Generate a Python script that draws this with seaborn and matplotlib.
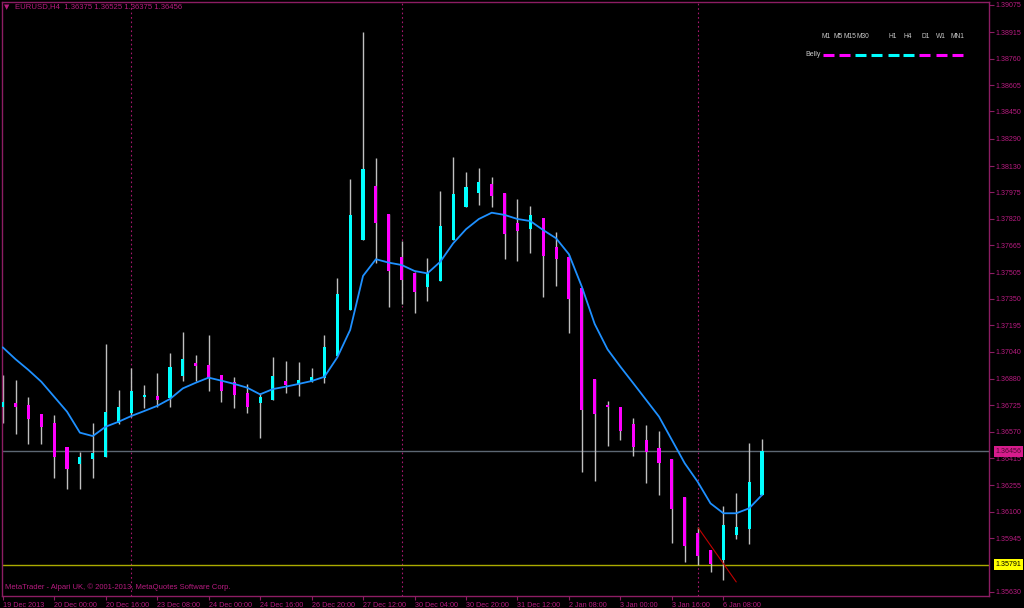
import numpy as np
import pandas as pd
import matplotlib
matplotlib.use("Agg")
import matplotlib.pyplot as plt
import matplotlib.transforms as mtransforms
from matplotlib import font_manager
import seaborn as sns

# EURUSD H4 candles, 19 Dec 2013 08:00 .. 6 Jan 2014 20:00
opens = [1.36714, 1.36737, 1.36727, 1.36673, 1.36624, 1.36479, 1.36381, 1.36409, 1.36424, 1.36620,
         1.36682, 1.36776, 1.36782, 1.36767, 1.36898, 1.36972, 1.36962, 1.36903, 1.36864, 1.36800,
         1.36737, 1.36757, 1.36868, 1.36849, 1.36864, 1.36884, 1.37015, 1.37285, 1.37696, 1.38013,
         1.37848, 1.37598, 1.37504, 1.37422, 1.37457, 1.37696, 1.37891, 1.37973, 1.38023, 1.37973,
         1.37797, 1.37759, 1.37823, 1.37656, 1.37598, 1.37412, 1.36878, 1.36727, 1.36717, 1.36616,
         1.36522, 1.36473, 1.36409, 1.36189, 1.35974, 1.35876, 1.35818, 1.35964, 1.35998, 1.36199]
highs = [1.36903, 1.36874, 1.36776, 1.36673, 1.36669, 1.36479, 1.36453, 1.36624, 1.37085, 1.36815,
         1.36943, 1.36845, 1.36913, 1.37031, 1.37158, 1.37021, 1.37138, 1.36903, 1.36893, 1.36851,
         1.36800, 1.37011, 1.36986, 1.36978, 1.36946, 1.37136, 1.37471, 1.38052, 1.38918, 1.38175,
         1.37848, 1.37692, 1.37510, 1.37588, 1.37985, 1.38181, 1.38093, 1.38120, 1.38064, 1.37973,
         1.37935, 1.37897, 1.37823, 1.37741, 1.37608, 1.37416, 1.36878, 1.36751, 1.36717, 1.36653,
         1.36610, 1.36577, 1.36409, 1.36189, 1.36010, 1.35876, 1.36135, 1.36213, 1.36506, 1.36525]
lows = [1.36622, 1.36557, 1.36497, 1.36497, 1.36301, 1.36234, 1.36234, 1.36301, 1.36424, 1.36616,
        1.36655, 1.36708, 1.36717, 1.36717, 1.36870, 1.36866, 1.36811, 1.36743, 1.36708, 1.36682,
        1.36532, 1.36757, 1.36796, 1.36782, 1.36861, 1.36858, 1.37015, 1.37285, 1.37696, 1.37559,
        1.37301, 1.37320, 1.37269, 1.37340, 1.37457, 1.37696, 1.37891, 1.37901, 1.37888, 1.37583,
        1.37574, 1.37618, 1.37363, 1.37428, 1.37148, 1.36336, 1.36281, 1.36489, 1.36522, 1.36430,
        1.36268, 1.36199, 1.35916, 1.35808, 1.35788, 1.35749, 1.35700, 1.35939, 1.35912, 1.36199]
closes = [1.36747, 1.36717, 1.36645, 1.36600, 1.36424, 1.36350, 1.36424, 1.36444, 1.36688, 1.36717,
          1.36811, 1.36786, 1.36757, 1.36952, 1.36996, 1.36958, 1.36884, 1.36811, 1.36786, 1.36714,
          1.36776, 1.36898, 1.36845, 1.36874, 1.36893, 1.37070, 1.37379, 1.37843, 1.38112, 1.37794,
          1.37516, 1.37461, 1.37392, 1.37504, 1.37778, 1.37966, 1.38005, 1.38034, 1.37956, 1.37731,
          1.37749, 1.37843, 1.37602, 1.37583, 1.37348, 1.36698, 1.36675, 1.36714, 1.36577, 1.36483,
          1.36453, 1.36385, 1.36115, 1.35902, 1.35841, 1.35794, 1.36023, 1.36010, 1.36274, 1.36456]
# moving average line (blue)
ma = [1.37066, 1.36996, 1.36933, 1.36864, 1.36776, 1.36688, 1.36565, 1.36545, 1.36600, 1.36629,
      1.36663, 1.36692, 1.36722, 1.36763, 1.36825, 1.36858, 1.36888, 1.36870, 1.36851, 1.36829,
      1.36790, 1.36821, 1.36835, 1.36851, 1.36868, 1.36893, 1.37007, 1.37168, 1.37485, 1.37583,
      1.37563, 1.37549, 1.37514, 1.37500, 1.37568, 1.37676, 1.37759, 1.37819, 1.37856, 1.37843,
      1.37819, 1.37807, 1.37754, 1.37706, 1.37612, 1.37422, 1.37203, 1.37054, 1.36952, 1.36855,
      1.36757, 1.36659, 1.36522, 1.36385, 1.36277, 1.36150, 1.36092, 1.36092, 1.36121, 1.36199]

time_tick_bars = [0, 4, 8, 12, 16, 20, 24, 28, 32, 36, 40, 44, 48, 52, 56]
time_labels = ["19 Dec 2013", "20 Dec 00:00", "20 Dec 16:00", "23 Dec 08:00", "24 Dec 00:00",
               "24 Dec 16:00", "26 Dec 20:00", "27 Dec 12:00", "30 Dec 04:00", "30 Dec 20:00",
               "31 Dec 12:00", "2 Jan 08:00", "3 Jan 00:00", "3 Jan 16:00", "6 Jan 08:00"]
price_ticks = [1.39075, 1.38915, 1.38760, 1.38605, 1.38450, 1.38290, 1.38130, 1.37975, 1.37820,
               1.37665, 1.37505, 1.37350, 1.37195, 1.37040, 1.36880, 1.36725, 1.36570, 1.36415,
               1.36255, 1.36100, 1.35945, 1.35630]
week_separators = [10, 31, 54]
bid_price = 1.36456
level_price = 1.35791
trend_bars = [54.05, 57.0]
trend_prices = [1.36006, 1.35689]
title = "EURUSD,H4  1.36375 1.36525 1.36375 1.36456"
copyright_text = "MetaTrader - Alpari UK, \u00a9 2001-2013, MetaQuotes Software Corp."

# "Belly" multi-timeframe indicator panel
tf_labels = ["M1", "M5", "M15", "M30", "H1", "H4", "D1", "W1", "MN1"]
tf_up = [False, False, True, True, True, True, False, False, False]


def pick_font(names):
    for n in names:
        try:
            font_manager.findfont(font_manager.FontProperties(family=n), fallback_to_default=False)
            return n
        except ValueError:
            pass
    return "DejaVu Sans"


sns.set_style("dark")
font = pick_font(["Liberation Sans Narrow", "Liberation Sans"])
plt.rcParams["font.family"] = [font, "DejaVu Sans"]

FG = "#b81c80"      # text colour
FRAME = "#8c1d63"   # axis lines
BULL = "#00ffff"
BEAR = "#ff00ff"
WICK = "#c0c0c0"

W, H = 1024, 608
fig = plt.figure(figsize=(W / 100, H / 100), dpi=100, facecolor="black")
ax = fig.add_axes([2 / W, 12 / H, 987 / W, 594 / H])
ax.set_facecolor("black")

df = pd.DataFrame({"bar": np.arange(len(opens)), "open": opens, "high": highs,
                   "low": lows, "close": closes, "ma": ma})
df["up"] = df["close"] >= df["open"]
df["body_lo"] = df[["open", "close"]].min(axis=1)
df["body_h"] = (df["close"] - df["open"]).abs().clip(lower=0.00003)

# period separators
for b in week_separators:
    ax.axvline(b, color="#a8176f", lw=0.8, ls=(0, (1.5, 2.5)), zorder=1)

# price lines
ax.axhline(bid_price, color="#5c6773", lw=1.0, zorder=1)
ax.axhline(level_price, color="#aaaa00", lw=1.0, zorder=1)

# candles
ax.vlines(df["bar"], df["low"], df["high"], colors=WICK, lw=1.0, zorder=2)
ax.bar(df["bar"], df["body_h"], bottom=df["body_lo"], width=0.24,
       color=np.where(df["up"], BULL, BEAR), linewidth=0, zorder=3)

# moving average
sns.lineplot(data=df, x="bar", y="ma", color="#1e90ff", lw=1.3, ax=ax, zorder=4)

# trend line
ax.plot(trend_bars, trend_prices, color="#c00000", lw=0.8, zorder=4)

ax.set_xlim(-0.054, 76.64)
ax.set_ylim(1.356064, 1.390926)
ax.set_xlabel("")
ax.set_ylabel("")
ax.grid(False)
for s in ax.spines.values():
    s.set_visible(True)
    s.set_color(FRAME)
    s.set_linewidth(1.0)

ax.yaxis.tick_right()
ax.set_yticks(price_ticks)
ax.set_yticklabels([f"{p:.5f}" for p in price_ticks])
ax.set_xticks(time_tick_bars)
ax.set_xticklabels(time_labels, ha="left")
ax.tick_params(axis="y", direction="out", length=3.5, width=0.8, color=FRAME,
               labelcolor=FG, labelsize=5.1, pad=1.5, right=True, left=False)
ax.tick_params(axis="x", direction="out", length=3, width=0.8, color=FRAME,
               labelcolor=FG, labelsize=5.2, pad=1.5, bottom=True)

# price labels on the axis
yblend = mtransforms.blended_transform_factory(ax.transAxes, ax.transData)
ax.text(1.0065, bid_price, f"{bid_price:.5f}", transform=yblend, ha="left", va="center",
        fontsize=5.1, color="#4a0a30", clip_on=False, zorder=10,
        bbox=dict(boxstyle="square,pad=0.25", fc="#d61c8c", ec="none"))
ax.text(1.0065, level_price, f"{level_price:.5f}", transform=yblend, ha="left", va="center",
        fontsize=5.1, color="black", clip_on=False, zorder=10,
        bbox=dict(boxstyle="square,pad=0.25", fc="#ffff00", ec="none"))

# header and footer texts
fig.text(4 / W, 1 - 7 / H, "\u25bc", color=FG, fontsize=5, va="center", family=["DejaVu Sans"])
fig.text(15 / W, 1 - 7 / H, title, color=FG, fontsize=5.6, va="center")
fig.text(5 / W, 1 - 587 / H, copyright_text, color=FG, fontsize=5.5, va="center")

# Belly panel
label_x = [826.5, 838.5, 850, 863, 893, 907.5, 925.5, 941, 957.5]
dash_x = [828.5, 844.5, 860.5, 876.5, 893, 908.5, 924.5, 941, 957.5]
for lx, t in zip(label_x, tf_labels):
    fig.text(lx / W, 1 - 36 / H, t, color="#c8c8c8", fontsize=4.8, ha="center", va="center")
fig.text(805 / W, 1 - 55 / H, "Belly", color="#c8c8c8", fontsize=5.0, ha="left", va="center")
for dx, up in zip(dash_x, tf_up):
    fig.add_artist(plt.Line2D([(dx - 5.5) / W, (dx + 5.5) / W], [1 - 54.5 / H, 1 - 54.5 / H],
                              color=BULL if up else BEAR, lw=2.2, solid_capstyle="butt"))

fig.savefig("out.png", dpi=100, facecolor="black")
